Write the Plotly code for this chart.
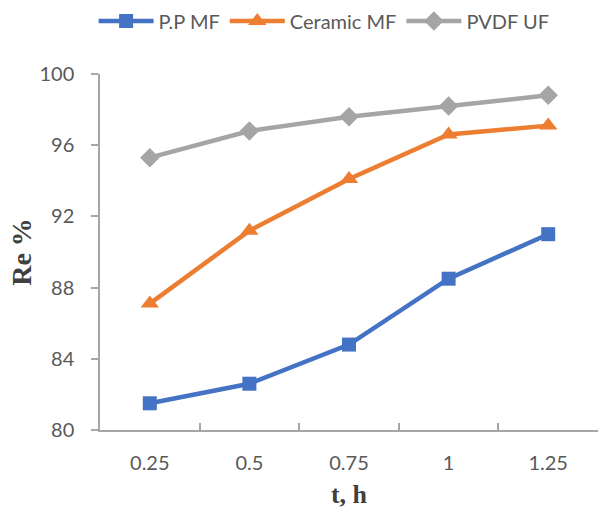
import plotly.graph_objects as go

categories = ["0.25", "0.5", "0.75", "1", "1.25"]
pp_mf = [81.5, 82.6, 84.8, 88.5, 91.0]
ceramic_mf = [87.1, 91.2, 94.1, 96.6, 97.1]
pvdf_uf = [95.3, 96.8, 97.6, 98.2, 98.8]
y_ticks = [80, 84, 88, 92, 96, 100]

fig = go.Figure()
fig.add_trace(go.Scatter(x=categories, y=pp_mf, name="P.P MF", mode="lines+markers",
                         line=dict(color="#4472C4", width=4.5),
                         marker=dict(symbol="square", size=14, color="#4472C4")))
fig.add_trace(go.Scatter(x=categories, y=ceramic_mf, name="Ceramic MF", mode="lines+markers",
                         line=dict(color="#ED7D31", width=4.5),
                         marker=dict(symbol="triangle-up", size=16, color="#ED7D31")))
fig.add_trace(go.Scatter(x=categories, y=pvdf_uf, name="PVDF UF", mode="lines+markers",
                         line=dict(color="#A5A5A5", width=4.5),
                         marker=dict(symbol="diamond", size=15, color="#A5A5A5")))

fig.update_layout(
    width=614, height=511,
    margin=dict(l=100, r=16, t=74, b=81),
    paper_bgcolor="white", plot_bgcolor="white",
    font=dict(family="Lato, Open Sans, sans-serif", size=20, color="#595959"),
    showlegend=True,
    legend=dict(orientation="h", x=0.45, xanchor="center", y=0.997, yref="container",
                yanchor="top", font=dict(size=20, color="#595959"),
                itemwidth=55, tracegroupgap=0),
    xaxis=dict(type="category", range=[-0.5, 4.5], showline=True, linecolor="#A6A6A6",
               linewidth=1.5, ticks="inside", ticklen=7, tickcolor="#A6A6A6", tickwidth=1.5,
               tickson="boundaries", showgrid=False, zeroline=False, automargin=False,
               ticklabelstandoff=14,
               tickfont=dict(size=20, color="#595959"),
               title=dict(text="t, h", standoff=12,
                          font=dict(family="Liberation Serif, Times New Roman, serif",
                                    size=26, color="#404040", weight="bold"))),
    yaxis=dict(range=[80, 100], tickvals=y_ticks, showline=True, linecolor="#A6A6A6",
               linewidth=1.5, ticks="outside", ticklen=7, tickcolor="#A6A6A6",
               tickwidth=1.5, showgrid=False, zeroline=False, automargin=False,
               ticklabelstandoff=13,
               tickfont=dict(size=20, color="#595959"),
               title=dict(text="Re %", standoff=0,
                          font=dict(family="Liberation Serif, Times New Roman, serif",
                                    size=28, color="#404040", weight="bold"))),
)

fig.write_html("out.html")
